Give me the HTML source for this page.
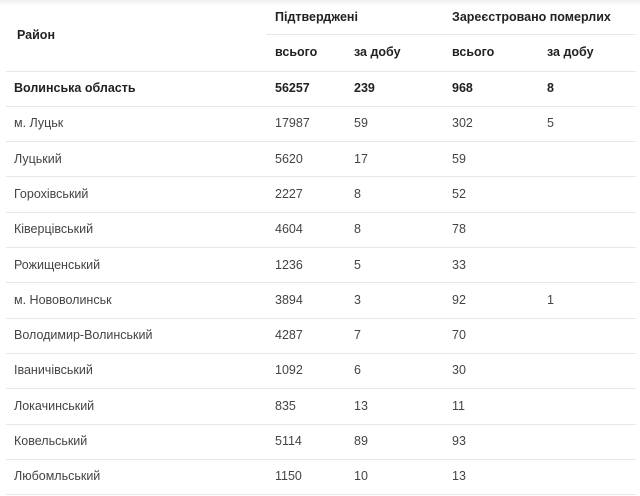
<!DOCTYPE html>
<html><head><meta charset="utf-8"><style>
body{margin:0;width:640px;height:496px;background:#fff;position:relative;overflow:hidden;font-family:"Liberation Sans","DejaVu Sans",sans-serif;font-size:12.5px;color:#444}
.t{position:absolute;white-space:nowrap;line-height:16px}
.b{font-weight:bold;color:#222}
.l{position:absolute;height:1px;background:#e8e8e8}
.sh{position:absolute;left:0;top:0;width:640px;height:6px;background:linear-gradient(#eee,#fff)}
</style></head><body>
<div class="sh"></div>
<div class="t b" style="left:17px;top:27px">Район</div>
<div class="t b" style="left:275px;top:9px">Підтверджені</div>
<div class="t b" style="left:452px;top:9px">Зареєстровано померлих</div>
<div class="l" style="left:266px;top:34px;width:370px"></div>
<div class="t b" style="left:275px;top:44px">всього</div>
<div class="t b" style="left:354px;top:44px">за добу</div>
<div class="t b" style="left:452px;top:44px">всього</div>
<div class="t b" style="left:547px;top:44px">за добу</div>
<div id="rows"></div>
<script>
var d=[["Волинська область","56257","239","968","8",1],["м. Луцьк","17987","59","302","5"],["Луцький","5620","17","59",""],["Горохівський","2227","8","52",""],["Ківерцівський","4604","8","78",""],["Рожищенський","1236","5","33",""],["м. Нововолинськ","3894","3","92","1"],["Володимир-Волинський","4287","7","70",""],["Іваничівський","1092","6","30",""],["Локачинський","835","13","11",""],["Ковельський","5114","89","93",""],["Любомльський","1150","10","13",""]];
var xs=[14,275,354,452,547],h="";
for(var i=0;i<d.length;i++){var y=70.5+35.3*i;h+='<div class="l" style="left:6px;top:'+y.toFixed(1)+'px;width:630px"></div>';
for(var j=0;j<5;j++)h+='<div class="t'+(d[i][5]?' b':'')+'" style="left:'+xs[j]+'px;top:'+(y+9.5).toFixed(1)+'px">'+d[i][j]+'</div>';}
h+='<div class="l" style="left:6px;top:494px;width:630px"></div>';
document.getElementById("rows").innerHTML=h;
</script>
</body></html>
